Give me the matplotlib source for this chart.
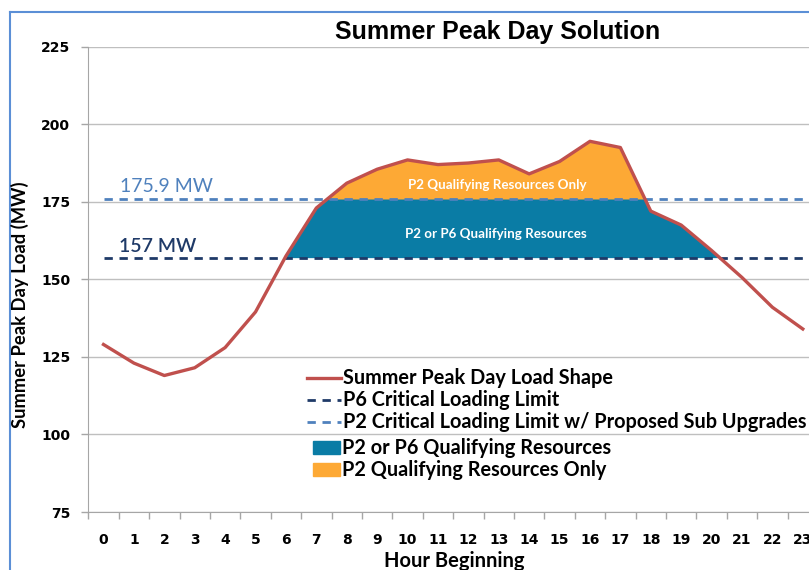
import numpy as np
import matplotlib
matplotlib.use("Agg")
import matplotlib.pyplot as plt
from matplotlib.lines import Line2D
from matplotlib.patches import Patch

# data
hours = list(range(24))
load_mw = [129, 123, 119, 121.5, 128, 139.5, 157.5, 173, 181, 185.5, 188.5, 187,
           187.5, 188.5, 184, 188, 194.5, 192.5, 172, 167.5, 159.3, 150.6, 141, 134]
p6_limit = 157
p2_limit = 175.9
y_ticks = [75, 100, 125, 150, 175, 200, 225]

red = '#C0504D'
teal = '#0A7CA5'
orange = '#FDA935'
dark_blue = '#1F3A68'
light_blue = '#4F81BD'

fig = plt.figure(figsize=(8.09, 5.70), dpi=100)
# plot area runs past the right edge like the cropped original
ax = fig.add_axes([88.3 / 809, 1 - 512 / 570, (818 - 88.3) / 809, (512 - 46.7) / 570])

x = np.array(hours)
y = np.array(load_mw)

ax.fill_between(x, p6_limit, y, where=y > p6_limit, interpolate=True,
                color=teal, lw=0, zorder=2)
ax.fill_between(x, p2_limit, y, where=y > p2_limit, interpolate=True,
                color=orange, lw=0, zorder=2.1)

dash = (0, (3, 2.4))
ax.plot(x, [p6_limit] * len(x), color=dark_blue, lw=2, linestyle=dash, zorder=3)
ax.plot(x, [p2_limit] * len(x), color=light_blue, lw=2, linestyle=dash, zorder=3)
ax.plot(x, y, color=red, lw=2.4, zorder=4, solid_joinstyle='round')

ax.set_xlim(-0.5, 23.5)
ax.set_ylim(75, 225)
ax.set_yticks(y_ticks)
ax.set_xticks(hours)
ax.set_xticks(np.arange(-0.5, 24, 1), minor=True)
ax.tick_params(axis='x', which='major', length=0, pad=15, labelsize=10)
ax.tick_params(axis='x', which='minor', length=5, color='#A6A6A6', width=1)
ax.tick_params(axis='y', length=5, color='#A6A6A6', width=1, pad=8, labelsize=10)
for lab in ax.get_xticklabels() + ax.get_yticklabels():
    lab.set_fontweight('bold')

ax.grid(axis='y', color='#BFBFBF', lw=1)
ax.set_axisbelow(True)
for s in ['top', 'right']:
    ax.spines[s].set_visible(False)
for s in ['left', 'bottom']:
    ax.spines[s].set_color('#A6A6A6')

ax.text(0.55, p2_limit + 1.3, '175.9 MW', color=light_blue, fontsize=14,
        family='Lato', va='bottom', ha='left')
ax.text(0.5, p6_limit + 1.0, '157 MW', color=dark_blue, fontsize=14,
        family='Lato', fontweight='semibold', va='bottom', ha='left')
ax.text(12.95, 180.4, 'P2 Qualifying Resources Only', color='white', fontsize=9.6,
        family='Lato', fontweight='bold', ha='center', va='center', zorder=5)
ax.text(12.9, 164.6, 'P2 or P6 Qualifying Resources', color='white', fontsize=9.6,
        family='Lato', fontweight='bold', ha='center', va='center', zorder=5)

legend_font = {'family': 'Lato', 'weight': 'bold', 'size': 14.3}
line_handles = [
    Line2D([], [], color=red, lw=2.4),
    Line2D([], [], color=dark_blue, lw=2, linestyle=dash),
    Line2D([], [], color=light_blue, lw=2, linestyle=dash),
]
line_labels = ['Summer Peak Day Load Shape', 'P6 Critical Loading Limit',
               'P2 Critical Loading Limit w/ Proposed Sub Upgrades']
area_handles = [Patch(color=teal), Patch(color=orange)]
area_labels = ['P2 or P6 Qualifying Resources', 'P2 Qualifying Resources Only']

leg1 = fig.legend(line_handles, line_labels, loc='upper left',
                  bbox_to_anchor=(307 / 809, 1 - 368.5 / 570), frameon=False,
                  borderpad=0, borderaxespad=0, handlelength=1.7, handletextpad=0.1,
                  labelspacing=0.1, prop=legend_font)
leg2 = fig.legend(area_handles, area_labels, loc='upper left',
                  bbox_to_anchor=(313 / 809, 1 - 438.5 / 570), frameon=False,
                  borderpad=0, borderaxespad=0, handlelength=1.35, handleheight=0.6,
                  handletextpad=0.1, labelspacing=0.1, prop=legend_font)

fig.text(498 / 809, 1 - 32 / 570, 'Summer Peak Day Solution', fontsize=18,
         fontweight='bold', family='Liberation Sans', ha='center', va='center')
fig.text(454 / 809, 1 - 561 / 570, 'Hour Beginning', fontsize=14.5,
         fontweight='bold', family='Lato', ha='center', va='center')
fig.text(20 / 809, 1 - 305 / 570, 'Summer Peak Day Load (MW)', fontsize=13.2,
         fontweight='bold', family='Lato', ha='center', va='center', rotation=90)

# blue frame around the chart
fig.add_artist(Line2D([10 / 809, 10 / 809], [0, 1 - 12 / 570], color='#5B8FD6', lw=1.5))
fig.add_artist(Line2D([10 / 809, 1], [1 - 12 / 570, 1 - 12 / 570], color='#5B8FD6', lw=1.5))

fig.savefig('out.png', dpi=100)
